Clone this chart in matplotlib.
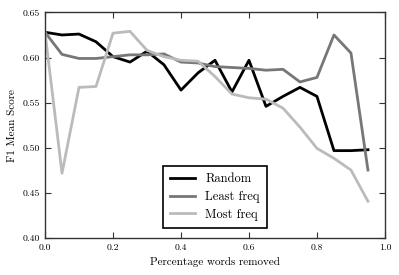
import matplotlib
matplotlib.use("Agg")
import matplotlib.pyplot as plt

plt.rcParams['font.family'] = ['cmr10', 'DejaVu Serif']
plt.rcParams['axes.formatter.use_mathtext'] = True
plt.rcParams['mathtext.fontset'] = 'cm'

x = [0.0, 0.05, 0.1, 0.15, 0.2, 0.25, 0.3, 0.35, 0.4, 0.45,
     0.5, 0.55, 0.6, 0.65, 0.7, 0.75, 0.8, 0.85, 0.9, 0.95]
random_vals = [0.628, 0.625, 0.626, 0.6175, 0.601, 0.595, 0.607, 0.592, 0.564, 0.583,
               0.597, 0.562, 0.597, 0.546, 0.557, 0.567, 0.557, 0.497, 0.497, 0.498]
least_vals = [0.628, 0.6035, 0.599, 0.599, 0.601, 0.603, 0.603, 0.604, 0.595, 0.594,
              0.590, 0.589, 0.588, 0.586, 0.587, 0.573, 0.578, 0.625, 0.605, 0.4755]
most_vals = [0.628, 0.472, 0.567, 0.568, 0.627, 0.629, 0.608, 0.601, 0.597, 0.596,
             0.579, 0.5596, 0.5555, 0.554, 0.544, 0.523, 0.4995, 0.4885, 0.4755, 0.441]
labels = ["Random", "Least freq", "Most freq"]

fig = plt.figure(figsize=(3.99, 2.75), dpi=100)
ax = fig.add_axes([0.1128, 0.1335, 0.852, 0.8215])
ax.plot(x, random_vals, color='black', lw=2, label=labels[0])
ax.plot(x, least_vals, color='#777777', lw=2, label=labels[1])
ax.plot(x, most_vals, color='#bbbbbb', lw=2, label=labels[2])
ax.set_xlim(0, 1)
ax.set_ylim(0.40, 0.65)
ax.set_xticks([0.0, 0.2, 0.4, 0.6, 0.8, 1.0])
ax.set_yticks([0.40, 0.45, 0.50, 0.55, 0.60, 0.65])
ax.set_xticklabels(["0.0", "0.2", "0.4", "0.6", "0.8", "1.0"])
ax.set_yticklabels(["0.40", "0.45", "0.50", "0.55", "0.60", "0.65"])
ax.tick_params(direction='in', top=True, right=True, labelsize=7, length=4, width=0.8, color='#333333')
for s in ax.spines.values():
    s.set_linewidth(1.0)
    s.set_color('#333333')
ax.set_xlabel("Percentage words removed", fontsize=8)
ax.set_ylabel("F1 Mean Score", fontsize=8)
leg = ax.legend(loc='lower center', fontsize=9, fancybox=False, edgecolor='black',
                framealpha=1, handlelength=2.0, borderpad=0.55, labelspacing=0.45,
                bbox_to_anchor=(0.5, 0.02))
leg.get_frame().set_linewidth(1.2)
fig.savefig("out.png", dpi=100)
